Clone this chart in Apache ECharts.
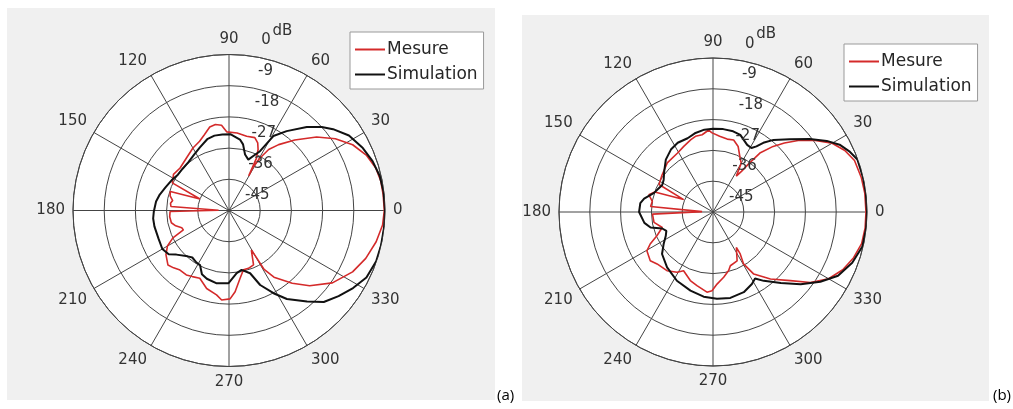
<!DOCTYPE html>
<html>
<head>
<meta charset="utf-8">
<script src="https://cdn.jsdelivr.net/npm/echarts@6/dist/echarts.min.js"></script>
<style>
html,body{margin:0;padding:0;background:#fff;}
#chart{width:1013px;height:409px;}
</style>
</head>
<body>
<div id="chart"></div>
<script>
// ---- data (angle in degrees, level in dB) ----
const seriesNames = ['Mesure', 'Simulation'];
const panelLabels = ['(a)', '(b)'];
const angleTicks = [0, 30, 60, 90, 120, 150, 180, 210, 240, 270, 300, 330];
const dbTicks = [-45, -36, -27, -18, -9, 0];

// Panel (a) - Mesure
const angA_mes = [0,6,11,16,22,28,34,40,47,53,57,59.5,61,60.4,62.3,64.5,67,70.5,76.6,84,91.7,95,99,103,108,113,120,129,139,147,151,154,158.5,162,166,170,173,176,178.5,181,186,192,196,200,203,206,210,215,221.7,226,230,236.5,241,246.7,254,261.6,265.3,270.7,274.3,279.3,283.7,288.6,294.3,299.5,300.3,300.8,304,311,317,325,333.6,340.7,348,354.6];
const dbA_mes  = [-0.2,-0.3,-0.4,-0.9,-2.3,-4.6,-8,-12,-17.2,-21.2,-24,-27.5,-31,-33.5,-28,-25.5,-23.8,-22.7,-23,-22.5,-22.3,-20.3,-19.9,-20.3,-22,-23.3,-24.2,-25.5,-26.3,-25.9,-26.5,-26.8,-36,-27.2,-27.5,-28.5,-28,-28.2,-42,-28,-27.8,-28,-29,-30.5,-30.7,-27,-24.5,-22.8,-21.4,-22,-22.7,-22.7,-23.2,-23.7,-21.6,-20.4,-19.1,-19.5,-21.5,-25.2,-27.4,-27.4,-27.8,-31.9,-29.1,-25.2,-21.8,-17.2,-13.2,-8.6,-5.2,-3.2,-1.6,-0.5];
// Panel (a) - Simulation
const angA_sim = [0,7,13,19,25,32,38,42,47,54,59.2,62.4,66,69.2,74,78,81.2,89,95,101,107,115,122,130,138,145,152,160,167,173,181,186,192,202,210,216,220,228,232,238,242,247,252,260,269.5,277,282,288.6,292.7,298.3,303.2,310.6,316,322,328,334,341,347,354];
const dbA_sim  = [0,-0.1,-0.4,-1.2,-2.4,-4.2,-6.9,-9,-12.1,-16.7,-20,-25.7,-27.8,-29.3,-28.2,-25.5,-24.3,-23,-23,-23,-23.5,-25,-26,-26.8,-27,-27,-26.3,-25.5,-24.5,-23.8,-23.3,-23,-23,-23.1,-22.8,-23.5,-25.2,-27.2,-27.8,-27.3,-27.2,-25,-24.3,-23.7,-24,-26.8,-27.5,-25.9,-21.7,-17.9,-14.5,-10.4,-7,-4.9,-2.8,-0.9,-0.1,0,0];

// Panel (b) - Mesure
const angB_mes = [0,7,13,20,25,30,35,40,44,47.5,51.5,53.5,55,57,60,63,69,74,79,85,91,93,98,103,107,114,121,133,144,153,157,161,165,170,175,178,182,190,197,202.9,207,210.4,217.8,222.9,231.9,239.2,243.4,251.7,257.7,265.7,269.3,273.2,279.3,285,287.9,296.3,303.4,303,300.5,303.3,310.6,318.4,324.1,330,336,342,348,354];
const dbB_mes  = [-0.3,-0.3,-0.5,-1,-2.5,-4.8,-8.5,-12.5,-16,-19,-23,-27.5,-30.5,-32.5,-28.5,-27.5,-24.5,-23.1,-23.3,-22.8,-21.8,-21,-22.2,-22.3,-22.9,-24,-24.9,-25.4,-26.6,-27.3,-35.7,-27,-25.6,-27,-26.7,-41.8,-27.3,-27.5,-29.5,-27.2,-24.4,-22.6,-21.8,-22.7,-23.2,-24.5,-25.8,-23.9,-23,-21.5,-22,-23.9,-25.7,-27.3,-28.5,-29.1,-32.6,-30.4,-27.4,-23.3,-19.2,-14.8,-9.9,-6,-3.5,-1.8,-0.6,-0.3];
// Panel (b) - Simulation
const angB_sim = [0,7,13,20,24,28,32,37,43.5,50,54,56.5,59,63,70.5,76,83,90,96,103,109,117,124,132,140,147,152,158,162,169,173,180,189,194,198,202,207,213,219.5,230.3,242.3,254,263.7,272.6,281.4,291,298.4,302.3,306.4,313.7,320.5,327,333,340,347,354];
const dbB_sim  = [0,0,0,-0.1,-1.4,-3.1,-5.8,-9.6,-14.1,-17.5,-20,-22,-23.2,-23,-21.1,-20.7,-20.6,-20.7,-20.8,-21.4,-22.2,-22.3,-23,-24.4,-26.4,-27.8,-28.2,-27.5,-26.9,-24.5,-23.6,-23.4,-24.7,-26.2,-29.4,-30.3,-29.5,-27.8,-25.7,-24,-22.3,-21.1,-20.1,-19.6,-19.4,-19.9,-21.1,-22,-20,-16.3,-11.8,-7.6,-4,-1.7,-0.2,0];

// ---- helpers ----
function toData(ang, db) {
  const d = ang.map((a, i) => [db[i], a]);
  d.push([db[0], 360]); // close the pattern
  return d;
}

const FONT = 'DejaVu Sans';
const GRID = '#444444';
const TXT = '#333333';

const panels = [
  { center: [229, 210.5], radius: 156, bg: [7, 8, 488, 392], legend: [350, 32], label: [497, 388] },
  { center: [713, 212], radius: 154, bg: [522, 15, 467, 386], legend: [844, 44], label: [993, 388] }
];

const polar = [], angleAxis = [], radiusAxis = [], legend = [], title = [], graphic = [];

// main polars (0,1): grid, angle labels, curves
panels.forEach((p, k) => {
  polar.push({ center: p.center, radius: p.radius });
  angleAxis.push({
    polarIndex: k, type: 'value', min: 0, max: 360, interval: 30,
    startAngle: 0, clockwise: false, z: 2,
    axisLine: { show: true, lineStyle: { color: GRID, width: 1 } },
    axisTick: { show: false },
    axisLabel: {
      margin: 8, fontSize: 15, color: TXT, fontFamily: FONT,
      formatter: v => (angleTicks.indexOf(v) >= 0 ? String(v) : '')
    },
    splitLine: { show: true, lineStyle: { color: GRID, width: 1 } },
    splitArea: { show: false }
  });
  radiusAxis.push({
    polarIndex: k, type: 'value', min: dbTicks[0], max: dbTicks[dbTicks.length - 1], interval: 9, z: 2,
    axisLine: { show: false }, axisTick: { show: false }, axisLabel: { show: false },
    splitLine: { show: true, lineStyle: { color: GRID, width: 1 } }
  });
  legend.push({
    orient: 'vertical', left: p.legend[0], top: p.legend[1],
    padding: [9, 6, 6, 5], itemGap: 8, itemWidth: 30, itemHeight: 2, icon: 'rect',
    backgroundColor: '#ffffff', borderColor: '#9a9a9a', borderWidth: 1,
    textStyle: { fontSize: 17, fontFamily: FONT, color: '#262626', padding: [0, 0, 0, -3] },
    data: seriesNames
  });
  title.push({
    text: panelLabels[k], left: p.label[0], top: p.label[1], padding: 0,
    textStyle: { fontSize: 15, fontWeight: 'normal', color: '#000', fontFamily: 'Open Sans' }
  });
  graphic.push({
    type: 'rect', z: -10, silent: true,
    shape: { x: p.bg[0], y: p.bg[1], width: p.bg[2], height: p.bg[3] },
    style: { fill: '#f0f0f0' }
  });
});

// label polars (2,3): only carry the dB ring labels (MATLAB-style placement)
panels.forEach((p, k) => {
  polar.push({ center: [p.center[0] + 16, p.center[1] - 15], radius: p.radius });
  angleAxis.push({
    polarIndex: 2 + k, type: 'value', min: 0, max: 360, startAngle: 84, clockwise: false,
    show: false
  });
  radiusAxis.push({
    polarIndex: 2 + k, type: 'value', min: dbTicks[0], max: dbTicks[dbTicks.length - 1], interval: 9,
    axisLine: { show: false }, axisTick: { show: false }, splitLine: { show: false },
    axisLabel: {
      show: true, margin: 0, align: 'left', verticalAlign: 'middle',
      fontSize: 15, color: TXT, fontFamily: FONT, showMinLabel: true, showMaxLabel: true
    },
    name: 'dB', nameLocation: 'end', nameGap: 2, nameMoveOverlap: false,
    nameTextStyle: { fontSize: 15, color: TXT, fontFamily: FONT, align: 'left', verticalAlign: 'bottom', padding: [0, 0, 0, 11] },
    z: 5
  });
});

// background polars (4,5): white plotting disc under the grid
panels.forEach((p, k) => {
  polar.push({ center: p.center, radius: p.radius });
  angleAxis.push({
    polarIndex: 4 + k, type: 'value', min: 0, max: 360, interval: 30, startAngle: 0, clockwise: false, z: 0,
    axisLine: { show: false }, axisTick: { show: false }, axisLabel: { show: false },
    splitLine: { show: false },
    splitArea: { show: true, areaStyle: { color: ['#ffffff'] } }
  });
  radiusAxis.push({
    polarIndex: 4 + k, type: 'value', min: dbTicks[0], max: dbTicks[dbTicks.length - 1], z: 0,
    show: false
  });
});

const RED = '#d42a2a', BLACK = '#111111';
const series = [
  { name: 'Mesure', type: 'line', coordinateSystem: 'polar', polarIndex: 0, symbol: 'none', data: toData(angA_mes, dbA_mes), lineStyle: { color: RED, width: 1.6 }, itemStyle: { color: RED }, z: 3 },
  { name: 'Simulation', type: 'line', coordinateSystem: 'polar', polarIndex: 0, symbol: 'none', data: toData(angA_sim, dbA_sim), lineStyle: { color: BLACK, width: 2 }, itemStyle: { color: BLACK }, z: 4 },
  { name: 'Mesure', type: 'line', coordinateSystem: 'polar', polarIndex: 1, symbol: 'none', data: toData(angB_mes, dbB_mes), lineStyle: { color: RED, width: 1.6 }, itemStyle: { color: RED }, z: 3 },
  { name: 'Simulation', type: 'line', coordinateSystem: 'polar', polarIndex: 1, symbol: 'none', data: toData(angB_sim, dbB_sim), lineStyle: { color: BLACK, width: 2 }, itemStyle: { color: BLACK }, z: 4 }
];

const chart = echarts.init(document.getElementById('chart'), null, { renderer: 'canvas' });
chart.setOption({
  backgroundColor: '#ffffff',
  animation: false,
  graphic: graphic,
  title: title,
  legend: legend,
  polar: polar,
  angleAxis: angleAxis,
  radiusAxis: radiusAxis,
  series: series
});
</script>
</body>
</html>
